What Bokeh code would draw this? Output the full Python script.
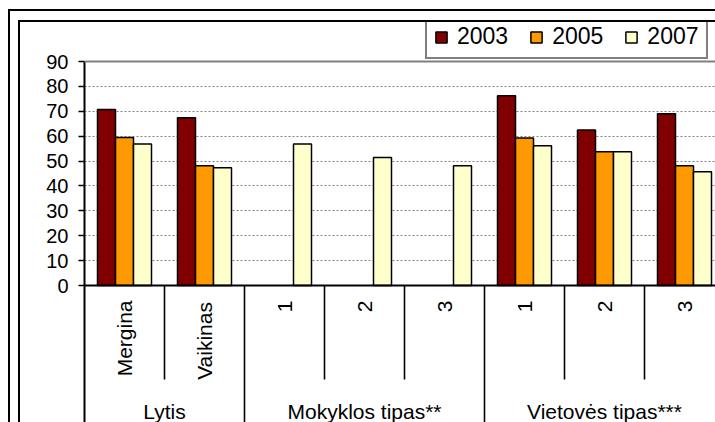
import math

from bokeh.core.properties import value
from bokeh.embed import file_html
from bokeh.models import FixedTicker, InlineStyleSheet, Legend, LegendItem, Span
from bokeh.plotting import figure
from bokeh.resources import INLINE

# ---- data -------------------------------------------------------------
years = ["2003", "2005", "2007"]
categories = ["Mergina", "Vaikinas", "1", "2", "3", "1", "2", "3"]
groups = ["Lytis", "Mokyklos tipas**", "Vietovės tipas***"]
group_sizes = [2, 3, 3]
share_2003 = [70.7, 67.4, None, None, None, 76.2, 62.5, 69.0]
share_2005 = [59.5, 48.1, None, None, None, 59.3, 53.7, 48.1]
share_2007 = [56.9, 47.3, 56.9, 51.4, 48.1, 56.1, 53.7, 45.7]
y_ticks = [0, 10, 20, 30, 40, 50, 60, 70, 80, 90]

# ---- styling / geometry -----------------------------------------------
series = [share_2003, share_2005, share_2007]
colors = ["#800000", "#FF9900", "#FFFFCC"]
FONT = "Liberation Sans"

W, H = 715, 422
LEFT, TOP = 84, 20            # frame offset inside the canvas
ZERO_FROM_TOP = 265           # frame top -> zero line, px
ZERO_TO_BOTTOM = 137          # zero line -> canvas bottom, px
VALUE_SPAN_PX = 224           # zero line -> top tick, px
CAT_PX = 80                   # width of one category slot, px
BAR_PX = 18                   # width of one bar, px
CAT_FONT_PX = 21              # rotated category labels
LABEL_GAP_PX = 15             # baseline -> end of rotated label, px

y_top = y_ticks[-1]
ppu = VALUE_SPAN_PX / y_top   # pixels per value unit
y_start = -ZERO_TO_BOTTOM / ppu
y_end = ZERO_FROM_TOP / ppu
x_end = (W - LEFT) / CAT_PX
bar_w = BAR_PX / CAT_PX

# advance widths (1/1000 em) of the Arial-metric sans used for the labels
ADVANCE = {"M": 833, "e": 556, "r": 333, "g": 556, "i": 222, "n": 556, "a": 556,
           "V": 667, "k": 500, "s": 500, "1": 556, "2": 556, "3": 556}


def text_px(s, size):
    return sum(ADVANCE.get(c, 556) for c in s) * size / 1000


# double chart border drawn along the left and top edges of the page
frame_css = InlineStyleSheet(css="""
:host { position: relative; }
:host::before, :host::after {
  content: "";
  position: absolute;
  right: 0;
  bottom: 0;
  border-left: 2px solid #000;
  border-top: 2px solid #000;
  pointer-events: none;
  z-index: 10;
}
:host::before { left: 8px; top: 9px; }
:host::after { left: 18px; top: 20px; }
""")

p = figure(
    width=W, height=H,
    x_range=(0, x_end), y_range=(y_start, y_end),
    output_backend="svg", toolbar_location=None,
    x_axis_location=None, y_axis_location="left",
    min_border_left=LEFT, min_border_right=0,
    min_border_top=TOP, min_border_bottom=0,
    outline_line_color=None,
    background_fill_color="white", border_fill_color="white",
    stylesheets=[frame_css],
)

# ---- value axis and grid ----------------------------------------------
ax = p.yaxis[0]
ax.ticker = FixedTicker(ticks=y_ticks)
ax.bounds = (y_start, y_top)
ax.axis_line_color = "black"
ax.axis_line_width = 2
ax.major_tick_out = 6
ax.major_tick_in = 0
ax.major_tick_line_color = "black"
ax.major_tick_line_width = 1.5
ax.minor_tick_line_color = None
ax.major_label_text_font = FONT
ax.major_label_text_font_size = "20px"
ax.major_label_text_color = "black"
ax.major_label_standoff = 10

p.xgrid.visible = False
p.ygrid.ticker = FixedTicker(ticks=y_ticks[1:-1])
p.ygrid.grid_line_color = "#808080"
p.ygrid.grid_line_dash = "2 2"
p.ygrid.grid_line_width = 1

# plot-area top edge
p.add_layout(Span(location=y_top, dimension="width",
                  line_color="#808080", line_width=2))

# ---- bars -------------------------------------------------------------
items = []
n_series = len(series)
for k, vals in enumerate(series):
    offset = (k - (n_series - 1) / 2) * bar_w
    xs = [i + 0.5 + offset for i, v in enumerate(vals) if v is not None]
    tops = [v for v in vals if v is not None]
    r = p.vbar(x=xs, top=tops, bottom=0, width=bar_w,
               fill_color=colors[k], line_color="black", line_width=1.5)
    items.append(LegendItem(label=years[k], renderers=[r]))

# category baseline
p.add_layout(Span(location=0, dimension="width",
                  line_color="black", line_width=2))

# ---- two-level category axis ------------------------------------------
inner_x, group_x, centers = [], [], []
start = 0
for size in group_sizes:
    inner_x += [start + j for j in range(1, size)]
    centers.append(start + size / 2)
    start += size
    group_x.append(start)
group_x = group_x[:-1]

inner_depth = -94 / ppu
p.segment(x0=inner_x, y0=[0] * len(inner_x), x1=inner_x, y1=[inner_depth] * len(inner_x),
          line_color="black", line_width=1.6)
p.segment(x0=group_x, y0=[0] * len(group_x), x1=group_x, y1=[y_start] * len(group_x),
          line_color="black", line_width=1.6)

# rotated labels: each starts low enough that it ends just under the baseline
cat_y = [-(LABEL_GAP_PX + text_px(c, CAT_FONT_PX)) / ppu for c in categories]
p.text(x=[i + 0.5 for i in range(len(categories))], y=cat_y,
       text=categories, angle=math.pi / 2,
       text_align="left", text_baseline="middle",
       text_font=value(FONT), text_font_size=f"{CAT_FONT_PX}px", text_color="black")

p.text(x=centers, y=[0] * len(groups), text=groups,
       text_align="center", text_baseline="alphabetic", y_offset=126,
       text_font=value(FONT), text_font_size="21px", text_color="black")

# ---- legend -----------------------------------------------------------
legend = Legend(
    items=items, orientation="horizontal", location=(341, 363),
    margin=0, padding=7, spacing=21,
    glyph_width=14, glyph_height=14, label_standoff=9,
    label_text_font=FONT, label_text_font_size="23px", label_text_color="black",
    border_line_color="black", border_line_width=2,
    background_fill_color="white", background_fill_alpha=1,
)
p.add_layout(legend)

open("out.html", "w").write(file_html(p, INLINE))
